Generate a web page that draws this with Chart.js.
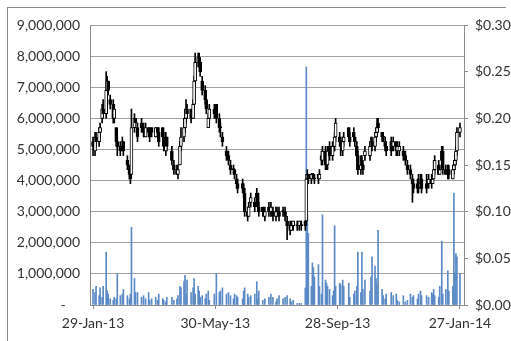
<!DOCTYPE html>
<html>
<head>
<meta charset="utf-8">
<script src="https://cdn.jsdelivr.net/npm/chart.js@4.4.1/dist/chart.umd.min.js"></script>
<style>
  body { margin: 0; background: #fff; }
  #frame { position: absolute; left: 7px; top: 7px; width: 498px; height: 340px;
           border-top: 1px solid #8c8c8c; border-left: 1px solid #8c8c8c; }
  #wrap { position: absolute; left: 0; top: 0; width: 511px; height: 341px; }
</style>
</head>
<body>
<div id="frame"></div>
<div id="wrap"><canvas id="chart" width="511" height="341"></canvas></div>
<script>
// 29-Jan-13 .. 27-Jan-14, one value per weekday (5 per week), null = no trade that day
var startDate = new Date(2013, 0, 29);
var tickDays = [0, 121, 242, 363];
var months = ['Jan','Feb','Mar','Apr','May','Jun','Jul','Aug','Sep','Oct','Nov','Dec'];

// prices in cents
var openC = [
  17.5,null,16.5,18,17.5, 18.5,null,20,21,20.5, 23,24,null,22,21.5, 20,null,19,17.5,17,
  null,17,17.5,null,15.5, null,15,14,14,19, 20,null,19,null,19.5, null,19,null,18,19,
  18.5,null,19,null,18, null,19,18.5,null,19, 18,null,16.5,18,null, null,16.5,null,15,14.5,
  14,null,15,17,18, 19,20,21,null,21, null,20,21.5,24,26, 26.5,26,null,24,23,
  22,null,19,20,null, null,21,null,21.5,20, 19,null,18,null,16.5, null,16,null,15,14.5,
  14.5,null,13.5,13,null, null,13,12.5,12,10, 9.5,null,11,null,11, null,11.5,12,10.5,null,
  10.5,null,9.5,null,10.5, null,10,null,10,9.5, 10,null,10,null,10, null,10,null,9,8.5,
  8,null,8.5,null,8.5, null,8.5,null,8.5,null, 9,9,13.5,14,13.5, 14,14,13.5,null,14,
  13.5,null,16,15.5,16.5, 15,15,null,17,16, 17,17,18,null,18, 17.5,null,16.5,17.5,null,
  null,19,18,null,18.5, 18,null,17,16,14.5, 15,15,null,16,null, null,16,17,17.5,17,
  18,18.5,19.5,null,18.5, 18,null,17.5,17,null, null,17.5,null,17,17.5, 16.5,null,16.5,null,16.5,
  null,16,null,15,14.5, null,13.5,13,null,13, 12.5,null,13,13.5,null, null,13,null,13,13.5,
  13,13.5,14.5,null,15, 14,null,15.5,16.5,14.5, null,14,14.5,null,13.5, 14.5,15,15.5,16.5,18.5
];
var highC = [
  18,null,18.5,18.5,19, 19.5,null,21.5,22,25, 24.5,24,null,22.5,22, 21.5,null,19,18,17.5,
  null,18,17.5,null,16, null,15,14.5,21,20.5, 20,null,19.5,null,20, null,19.5,null,19.5,19,
  19,null,19,null,19, null,19,19,null,19, 18.5,null,18.5,18,null, null,17,null,15.5,15,
  15,null,17.5,19,20, 21,22,21.5,null,21, null,22,24.5,27,27, 27,26.5,null,24.5,23.5,
  22,null,20.5,21.5,null, null,21.5,null,21.5,20.5, 19.5,null,18.5,null,17, null,16.5,null,15.5,15,
  14.5,null,14,13.5,null, null,13.5,13,12.5,10.5, 11,null,12,null,11.5, null,12.5,12,11,null,
  10.5,null,10.5,null,11, null,11,null,10.5,10.5, 10.5,null,10.5,null,10.5, null,10.5,null,9.5,9,
  9,null,9,null,9, null,9,null,9,null, 9,14,14.5,14,14, 14,14,14,null,14,
  14.5,null,16.5,17,17, 16,17,null,17.5,17.5, 17.5,18.5,20,null,18.5, 18,null,18,18.5,null,
  null,19,18.5,null,19, 18,null,17.5,16.5,16, 16,15.5,null,17,null, null,17.5,18,18,18.5,
  19,20,20,null,18.5, 18.5,null,18,17.5,null, null,18,null,18,17.5, 17.5,null,17.5,null,17,
  null,16.5,null,15.5,15, null,14,13.5,null,13.5, 14,null,14,14,null, null,14,null,14,14,
  14,15.5,16,null,15.5, 15,null,17,17,15, null,15,15,null,15, 15.5,16,17,19,19.5
];
var lowC = [
  16,null,16,17,17, 18,null,19.5,20,20, 22,22.5,null,21,19.5, 19.5,null,17,16,16,
  null,16.5,16,null,14.5, null,13.5,13,14,18.5, 19,null,17.5,null,18.5, null,18,null,18,18,
  17.5,null,18,null,18, null,18,17,null,17.5, 16.5,null,16,16.5,null, null,15,null,14,14,
  13.5,null,15,16.5,17.5, 18.5,19.5,20,null,19.5, null,20,21,23.5,25.5, 25.5,24.5,null,22.5,21.5,
  20.5,null,19,19.5,null, null,20,null,19.5,18.5, 18,null,17,null,15.5, null,15,null,14,14,
  13.5,null,12.5,12,null, null,12,11.5,9.5,9, 9.5,null,10.5,null,10, null,11,10,9.5,null,
  9.5,null,9,null,9.5, null,9.5,null,9,9, 9.5,null,9,null,9.5, null,9,null,7,7.5,
  8,null,8,null,8, null,8,null,8,null, 8,8.5,13,13,13, 13.5,13.5,13,null,13,
  13.5,null,15,15,14.5, 14.5,14.5,null,15.5,15.5, 16.5,16.5,17.5,null,17, 16,null,16,17,null,
  null,17.5,17,null,17.5, 17,null,15.5,14,14, 14.5,14,null,15.5,null, null,15.5,16.5,16.5,16.5,
  17.5,18,18.5,null,17.5, 17.5,null,16.5,16,null, null,16,null,16.5,16, 16,null,16,null,15.5,
  null,15,null,14,13.5, null,11,12,null,12, 12,null,12.5,12,null, null,12,null,12.5,12.5,
  13,13.5,14,null,14, 14,null,15,14,14, null,13.5,13.5,null,13.5, 14,14.5,15,16,18
];
var closeC = [
  17,null,18,17.5,18.5, 19,null,21,20.5,23, 24,23,null,21.5,20, 21,null,17.5,17,16.5,
  null,17.5,16.5,null,15, null,14,13.5,19,20, 19.5,null,18,null,19, null,18.5,null,19,18.5,
  18,null,18.5,null,19, null,18.5,17.5,null,18, 17,null,18,17,null, null,15.5,null,14.5,14,
  14.5,null,17,18,19, 20,21,20.5,null,20, null,21.5,24,26,26.5, 26,25,null,23,22,
  21,null,20,21,null, null,20.5,null,20,19, 19,null,17.5,null,16, null,15.5,null,14.5,14.5,
  14,null,13,12.5,null, null,12.5,12,10,9.5, 10.5,null,11.5,null,10.5, null,12,10.5,10,null,
  10,null,10,null,10, null,10.5,null,9.5,10, 10,null,9.5,null,10, null,9.5,null,8.5,8,
  8.5,null,9,null,8.5, null,9,null,8.5,null, 8.5,13.5,14,13.5,14, 14,13.5,13.5,null,13.5,
  14,null,15.5,16.5,15, 15,16.5,null,16,17, 17,18,19.5,null,17.5, 17.5,null,17.5,18,null,
  null,18,17.5,null,18, 17.5,null,16,14.5,15, 15,14.5,null,16.5,null, null,17,17.5,17,18,
  18.5,19,19,null,18, 18,null,17,16.5,null, null,16.5,null,17.5,16.5, 17,null,17,null,16,
  null,15.5,null,14.5,14, null,13,12.5,null,12.5, 12.5,null,13.5,12.5,null, null,12.5,null,13.5,13,
  13.5,14.5,15.5,null,14, 14.5,null,16.5,14.5,14, null,14.5,14,null,14.5, 15,15.5,16.5,18.5,19
];
// volume in thousands of shares
var volumeK = [
  500,0,400,600,300, 550,0,250,600,1700, 450,350,0,200,150, 250,0,200,1000,300,
  0,350,500,0,300, 0,200,350,2500,850, 400,0,400,0,250, 0,300,0,200,400,
  150,0,200,0,250, 0,150,350,0,200, 150,0,100,250,0, 0,250,0,150,200,
  300,0,600,550,750, 950,350,800,0,400, 0,550,850,350,600, 450,250,0,300,200,
  350,0,450,150,0, 0,350,0,1000,400, 450,0,550,0,350, 0,400,0,300,200,
  350,0,300,250,0, 0,200,450,550,350, 250,0,300,0,350, 0,750,200,450,0,
  150,0,200,0,250, 0,350,0,250,100, 200,0,300,0,200, 0,250,0,300,200,
  100,0,150,0,50, 0,50,0,50,0, 550,7650,2900,2300,600, 1350,1200,900,0,1300,
  600,0,350,2900,800, 700,600,0,500,300, 450,2550,600,0,700, 650,0,800,600,0,
  0,700,250,0,350, 450,0,600,1700,400, 1700,500,0,800,0, 0,450,900,1550,1250,
  850,650,2400,0,500, 300,0,200,350,0, 0,400,0,300,350, 150,0,100,0,300,
  0,100,0,150,350, 0,250,300,0,200, 350,0,450,300,0, 0,300,0,250,400,
  350,500,300,0,250, 600,0,2050,350,500, 0,1100,450,0,600, 3600,1000,1650,1550,1000
];

// weekdays from the start date, as day offsets
var days = [];
for (var d = 0; days.length < closeC.length; d++) {
  var dt = new Date(2013, 0, 29 + d);
  if (dt.getDay() !== 0 && dt.getDay() !== 6) days.push(d);
}

var wicks = [], bodies = [], vols = [], bodyFill = [];
for (var i = 0; i < days.length; i++) {
  if (closeC[i] !== null) {
    wicks.push({x: days[i], y: [lowC[i] / 100, highC[i] / 100]});
    bodies.push({x: days[i], y: [openC[i] / 100, closeC[i] / 100]});
    bodyFill.push(closeC[i] > openC[i] ? '#ffffff' : '#000000');
  }
  if (volumeK[i] > 0) vols.push({x: days[i], y: volumeK[i] * 1000});
}

function fmtDate(v) {
  var dt = new Date(startDate.getFullYear(), startDate.getMonth(), startDate.getDate() + v);
  return dt.getDate() + '-' + months[dt.getMonth()] + '-' + String(dt.getFullYear()).slice(2);
}

Chart.defaults.font.family = 'Lato, "Open Sans", sans-serif';
Chart.defaults.font.size = 14;
Chart.defaults.color = '#333333';

var ctx = document.getElementById('chart').getContext('2d');
new Chart(ctx, {
  type: 'bar',
  data: {
    datasets: [
      { label: 'Open-Close', data: bodies, yAxisID: 'y1', grouped: false,
        barThickness: 3, minBarLength: 1, backgroundColor: bodyFill,
        borderColor: '#000000', borderWidth: 1, borderSkipped: false },
      { label: 'High-Low', data: wicks, yAxisID: 'y1', grouped: false,
        barThickness: 1, backgroundColor: '#000000' },
      { label: 'Volume', data: vols, yAxisID: 'y', grouped: false,
        barThickness: 1, backgroundColor: '#5b8ac6' }
    ]
  },
  options: {
    responsive: false,
    animation: false,
    layout: { padding: { top: 25, left: 0, right: 0, bottom: 0 } },
    plugins: { legend: { display: false }, tooltip: { enabled: false } },
    scales: {
      x: {
        type: 'linear', min: -3, max: 367, offset: false,
        afterBuildTicks: function (s) { s.ticks = tickDays.map(function (v) { return {value: v}; }); },
        afterFit: function (s) { s.height = 36; },
        ticks: { autoSkip: false, maxRotation: 0, padding: 6, callback: fmtDate },
        grid: { offset: false, drawOnChartArea: false, drawTicks: true, tickLength: 4, color: '#8c8c8c' },
        border: { color: '#8c8c8c' }
      },
      y: {
        position: 'left', min: 0, max: 9000000,
        afterFit: function (s) { s.width = 90; },
        ticks: { stepSize: 1000000, padding: 10,
          callback: function (v) { return v === 0 ? '-    ' : v.toLocaleString('en-US'); } },
        grid: { color: '#a0a0a0', drawTicks: false },
        border: { color: '#8c8c8c' }
      },
      y1: {
        position: 'right', min: 0, max: 0.3,
        afterFit: function (s) { s.width = 47; },
        ticks: { stepSize: 0.05, padding: 7,
          callback: function (v) { return '$' + v.toFixed(2); } },
        grid: { drawOnChartArea: false, drawTicks: true, tickLength: 4, color: '#8c8c8c' },
        border: { color: '#8c8c8c' }
      }
    }
  }
});
</script>
</body>
</html>
